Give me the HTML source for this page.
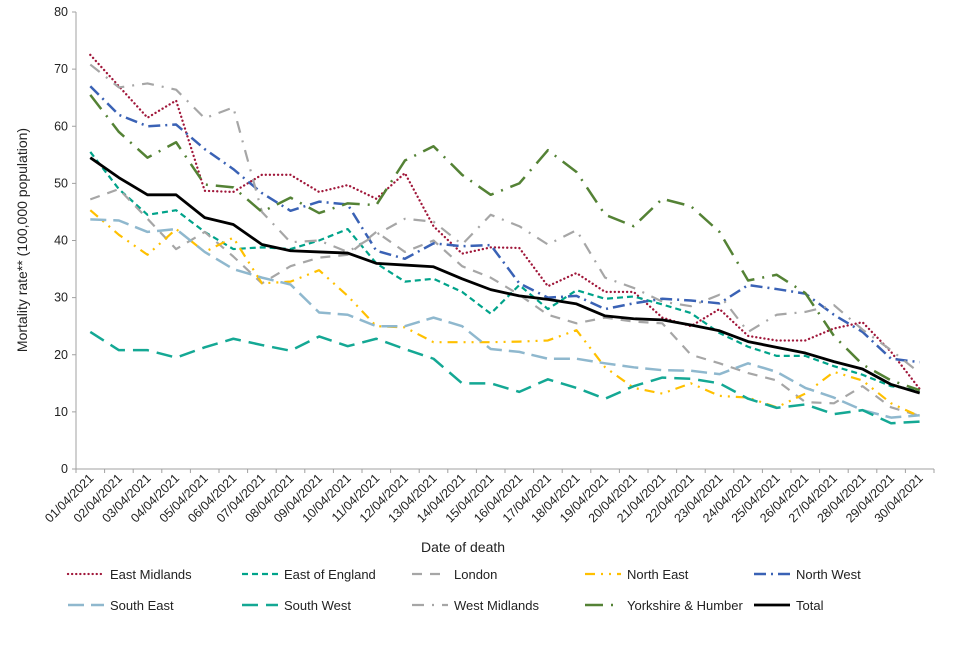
<!DOCTYPE html>
<html><head><meta charset="utf-8"><style>
body{margin:0;background:#fff;}
svg{font-family:"Liberation Sans",Arial,sans-serif;}
</style></head><body>
<svg id="chart" width="960" height="640">
<g id="grid"></g><g id="series"></g><g id="axes"></g><g id="legend"></g>
</svg>
<script>
const categories=["01/04/2021","02/04/2021","03/04/2021","04/04/2021","05/04/2021","06/04/2021","07/04/2021","08/04/2021","09/04/2021","10/04/2021","11/04/2021","12/04/2021","13/04/2021","14/04/2021","15/04/2021","16/04/2021","17/04/2021","18/04/2021","19/04/2021","20/04/2021","21/04/2021","22/04/2021","23/04/2021","24/04/2021","25/04/2021","26/04/2021","27/04/2021","28/04/2021","29/04/2021","30/04/2021"];
const yTicks=[0,10,20,30,40,50,60,70,80];
const seriesNames=["East Midlands","East of England","London","North East","North West","South East","South West","West Midlands","Yorkshire & Humber","Total"];
const eastMidlands=[72.5,67,61.5,64.5,48.7,48.5,51.5,51.5,48.5,49.7,47.3,51.8,42.5,37.7,38.8,38.7,32,34.3,31,31,26.5,25,28,23.3,22.5,22.5,24.6,25.7,20.5,14];
const eastOfEngland=[55.5,49,44.5,45.3,41.5,38.5,38.8,38.5,40,42,36,32.8,33.3,31,27.2,32.2,28,31.3,29.8,30.2,28.8,27.3,23.8,21.4,19.8,19.8,18,16.5,14.5,13.8];
const london=[47.2,49,43.8,38.5,41.5,37.2,32.5,35.5,37,37.5,41.5,38,40,35.5,33.5,30.5,27,25.5,26.5,25.8,25.5,20,18.5,16.8,15.5,11.7,11.5,14.5,10.8,9.3];
const northEast=[45.3,41,37.5,42,38,40.5,32.5,32.8,34.8,30.3,25,24.8,22.2,22.2,22.2,22.3,22.5,24.3,17.8,14.2,13.2,15,12.8,12.5,10.8,13.2,17,15.5,11.5,9.2];
const northWest=[67,62,60,60.3,56,52.5,48.3,45.2,46.8,46.3,38.2,36.8,39.5,39,39.2,32.5,30,30.3,28,29,29.8,29.5,29,32.2,31.5,30.7,27,24,19.3,18.7];
const southEast=[43.7,43.5,41.5,42,38,35,33.5,32.3,27.4,27,25,25,26.5,25,21,20.5,19.3,19.3,18.5,17.8,17.3,17.2,16.6,18.5,17,14.2,12.5,10.3,9,9.4];
const southWest=[24,20.8,20.8,19.5,21.3,22.8,21.7,20.7,23.2,21.5,22.8,21,19.3,15,15,13.5,15.7,14.2,12.3,14.5,16,15.8,15,12.3,10.7,11.3,9.6,10.3,8,8.3];
const westMidlands=[70.8,66.8,67.5,66.4,61.4,63.3,45,39.7,40,38,41,43.8,43.3,39.3,44.5,42.5,39.3,41.8,33.5,31.7,29.3,28.5,30.5,24,27,27.5,28.7,24.4,20.8,16.8];
const yorkshire=[65.5,59,54.5,57.2,49.8,49.3,45,47.5,44.8,46.5,46.2,54,56.5,51.5,48,50,55.8,52,44.5,42.5,47.3,46,41.5,33,34,30.8,23.3,18.3,15.5,13.8];
const total=[54.5,51,48,48,44,42.8,39.3,38.2,38,37.8,36,35.7,35.4,33.3,31.4,30.3,29.7,28.9,26.8,26.3,26.1,25.2,24.2,22.3,21.3,20.3,18.8,17.5,14.8,13.3];

const NS="http://www.w3.org/2000/svg";
const X0=76,X1=934,Y0=469,Y1=12,YMAX=80;
const band=(X1-X0)/categories.length;
const xs=i=>X0+band*(i+0.5);
const ys=v=>Y0-(v/YMAX)*(Y0-Y1);
function mk(tag,attrs,parent){const e=document.createElementNS(NS,tag);for(const k in attrs)e.setAttribute(k,attrs[k]);parent.appendChild(e);return e;}
const axes=document.getElementById('axes');
const styles=[
 {c:"#A0173A",d:"0.1 4",w:2.3,cap:"round"},
 {c:"#00A38A",d:"6 4",w:2.2},
 {c:"#A6A6A6",d:"10 8",w:2.2},
 {c:"#FFC000",d:"10 6 2 6 2 6",w:2.2},
 {c:"#3A62B5",d:"12 5 2 5",w:2.5},
 {c:"#8FB8CE",d:"16 7",w:2.5},
 {c:"#14A894",d:"16 8",w:2.5},
 {c:"#A6A6A6",d:"12 8 2 8",w:2.2},
 {c:"#548235",d:"18 8 2 8",w:2.5},
 {c:"#000000",d:"",w:2.8}
];
const data=[eastMidlands,eastOfEngland,london,northEast,northWest,southEast,southWest,westMidlands,yorkshire,total];
const keys=["east-midlands","east-of-england","london","north-east","north-west","south-east","south-west","west-midlands","yorkshire-humber","total"];
let yl=mk('line',{x1:X0,y1:Y1,x2:X0,y2:Y0,stroke:"#A0A0A0","stroke-width":1},axes);


let xl=mk('line',{x1:X0,y1:Y0,x2:X1,y2:Y0,stroke:"#A0A0A0","stroke-width":1},axes);


yTicks.forEach(t=>{
 const tk=mk('line',{x1:X0-4,y1:ys(t),x2:X0,y2:ys(t),stroke:"#A0A0A0"},axes);
 
 
 const tl=mk('text',{x:X0-8,y:ys(t)+4,"text-anchor":"end","font-size":12.5,fill:"#222"},axes);
 tl.textContent=t;
 
 
});
for(let i=0;i<=categories.length;i++){
 const tk=mk('line',{x1:X0+band*i,y1:Y0,x2:X0+band*i,y2:Y0+4,stroke:"#A0A0A0"},axes);
 
 
}
categories.forEach((c,i)=>{
 const x=xs(i)+4,y=Y0+10;
 const tl=mk('text',{x:x,y:y,"text-anchor":"end","font-size":12.5,fill:"#222",transform:`rotate(-45 ${x} ${y})`},axes);
 tl.textContent=c;
 
 
});
const xt=mk('text',{x:463,y:552,"text-anchor":"middle","font-size":14,fill:"#222"},axes);
xt.textContent="Date of death";


const yt=mk('text',{x:27,y:240,"text-anchor":"middle","font-size":14,fill:"#222",transform:"rotate(-90 27 240)"},axes);
yt.textContent="Mortality rate** (100,000 population)";


const sg=document.getElementById('series');
data.forEach((arr,s)=>{
 const st=styles[s];
 const p=mk('polyline',{points:arr.map((v,i)=>xs(i)+","+ys(v)).join(" "),fill:"none",stroke:st.c,"stroke-width":st.w,"stroke-dasharray":st.d,"stroke-linecap":st.cap||"butt","stroke-linejoin":"round"},sg);
 
 
});
const lg=document.getElementById('legend');
const colX=[68,242,412,585,754];
seriesNames.forEach((n,s)=>{
 const st=styles[s];
 const x=colX[s%5],y=s<5?574:605;
 const g=mk('g',{},lg);
 
 
 mk('line',{x1:x,y1:y,x2:x+36,y2:y,stroke:st.c,"stroke-width":st.w,"stroke-dasharray":st.d,"stroke-linecap":st.cap||"butt"},g);
 const t=mk('text',{x:x+42,y:y+5,"font-size":13,fill:"#222"},g);
 t.textContent=n;
});
</script>
</body></html>
